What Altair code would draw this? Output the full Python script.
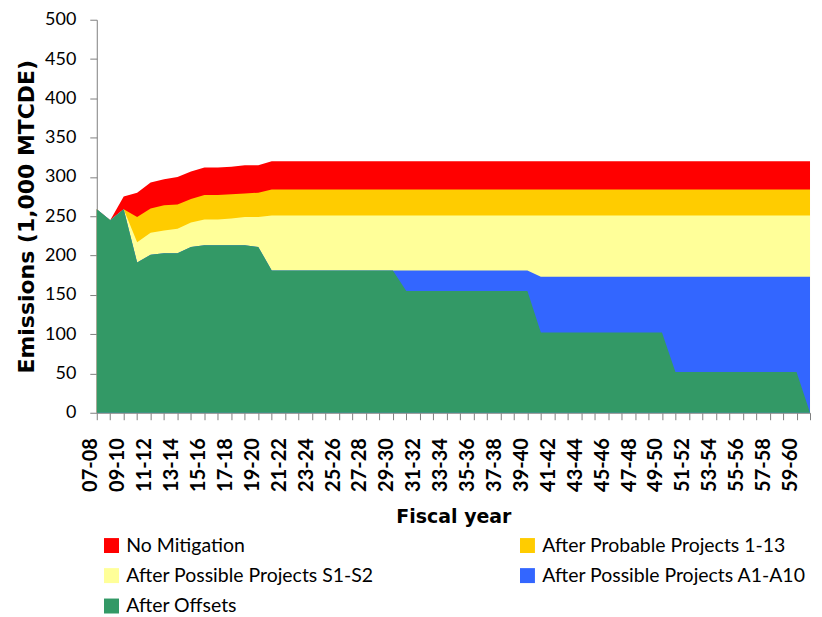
import altair as alt
import pandas as pd

years = ["07-08", "08-09", "09-10", "10-11", "11-12", "12-13", "13-14", "14-15", "15-16", "16-17",
         "17-18", "18-19", "19-20", "20-21", "21-22", "22-23", "23-24", "24-25", "25-26", "26-27",
         "27-28", "28-29", "29-30", "30-31", "31-32", "32-33", "33-34", "34-35", "35-36", "36-37",
         "37-38", "38-39", "39-40", "40-41", "41-42", "42-43", "43-44", "44-45", "45-46", "46-47",
         "47-48", "48-49", "49-50", "50-51", "51-52", "52-53", "53-54", "54-55", "55-56", "56-57",
         "57-58", "58-59", "59-60", "60-61"]

no_mitigation = [259, 245, 275, 280, 293, 297, 300, 307, 312, 312, 313, 315, 315,
                 320, 320, 320, 320, 320, 320, 320, 320, 320, 320, 320, 320, 320, 320,
                 320, 320, 320, 320, 320, 320, 320, 320, 320, 320, 320, 320, 320, 320,
                 320, 320, 320, 320, 320, 320, 320, 320, 320, 320, 320, 320, 320]
probable = [259, 245, 259, 249, 260, 264, 265, 272, 277, 277, 278, 279, 280,
            284, 284, 284, 284, 284, 284, 284, 284, 284, 284, 284, 284, 284, 284,
            284, 284, 284, 284, 284, 284, 284, 284, 284, 284, 284, 284, 284, 284,
            284, 284, 284, 284, 284, 284, 284, 284, 284, 284, 284, 284, 284]
possible_s = [259, 245, 259, 217, 229, 232, 234, 242, 246, 246, 247, 249, 249,
              251, 251, 251, 251, 251, 251, 251, 251, 251, 251, 251, 251, 251, 251,
              251, 251, 251, 251, 251, 251, 251, 251, 251, 251, 251, 251, 251, 251,
              251, 251, 251, 251, 251, 251, 251, 251, 251, 251, 251, 251, 251]
possible_a = [259, 245, 259, 191, 201, 203, 203, 211, 213, 213, 213, 213, 211,
              181, 181, 181, 181, 181, 181, 181, 181, 181, 181, 181, 181, 181, 181,
              181, 181, 181, 181, 181, 181, 173, 173, 173, 173, 173, 173, 173, 173,
              173, 173, 173, 173, 173, 173, 173, 173, 173, 173, 173, 173, 173]
offsets = [259, 245, 259, 191, 201, 203, 203, 211, 213, 213, 213, 213, 211,
           181, 181, 181, 181, 181, 181, 181, 181, 181, 181, 155, 155, 155, 155,
           155, 155, 155, 155, 155, 155, 102, 102, 102, 102, 102, 102, 102, 102,
           102, 102, 52, 52, 52, 52, 52, 52, 52, 52, 52, 52, 0]

series_names = ["No Mitigation", "After Probable Projects 1-13", "After Possible Projects S1-S2",
                "After Possible Projects A1-A10", "After Offsets"]
series_values = [no_mitigation, probable, possible_s, possible_a, offsets]
series_colors = ["#FF0000", "#FFCC00", "#FFFF99", "#3366FF", "#339966"]

rows = []
for name, vals in zip(series_names, series_values):
    for yr, v in zip(years, vals):
        rows.append({"year": yr, "value": v, "series": name})
df = pd.DataFrame(rows)

shown = years[::2]
label_expr = "indexof([" + ",".join("'" + s + "'" for s in shown) + "], datum.value) >= 0 ? datum.value : ''"

FONT = "Lato"
TFONT = "DejaVu Sans"

base = alt.Chart(df).mark_area(opacity=1, interpolate="linear").encode(
    x=alt.X("year:O", sort=years,
            scale=alt.Scale(type="point", padding=0),
            axis=alt.Axis(title="Fiscal year", labelAngle=270, labelExpr=label_expr,
                          labelOverlap=False, labelFontSize=20, labelFontWeight="bold",
                          labelColor="black", labelOffset=-6,
                          titleFontSize=19, titleFontWeight="bold", titleColor="black",
                          titlePadding=16, tickSize=7, labelPadding=18,
                          domainColor="#808080", tickColor="#808080", grid=False,
                          labelFont=FONT, titleFont=TFONT)),
    y=alt.Y("value:Q", stack=None,
            scale=alt.Scale(domain=[0, 500], nice=False),
            axis=alt.Axis(title="Emissions (1,000 MTCDE)", values=list(range(0, 501, 50)),
                          labelFontSize=18, labelColor="black", titleFontSize=22,
                          titleFontWeight="bold", titleColor="black", titlePadding=6,
                          tickSize=7, labelPadding=14, domainColor="#808080",
                          tickColor="#808080", grid=False, labelFont=FONT, titleFont=TFONT)),
    color=alt.Color("series:N",
                    scale=alt.Scale(domain=series_names, range=series_colors),
                    legend=alt.Legend(title=None, orient="none", legendX=5, legendY=517,
                                      direction="horizontal",
                                      columns=2, columnPadding=144, rowPadding=9.5,
                                      symbolType="square", symbolSize=225, symbolStrokeWidth=0,
                                      labelFontSize=19.5, labelFont=FONT, labelColor="black",
                                      labelLimit=400, labelOffset=5, padding=0)),
)

layers = [base.transform_filter(alt.datum.series == n) for n in series_names]

chart = alt.layer(*layers).properties(
    width=715, height=394,
    padding={"left": 7, "top": 2, "right": 0, "bottom": 0},
    background="white",
).configure_view(stroke=None)

chart.save("out.html", embed_options={"renderer": "svg", "actions": False})
